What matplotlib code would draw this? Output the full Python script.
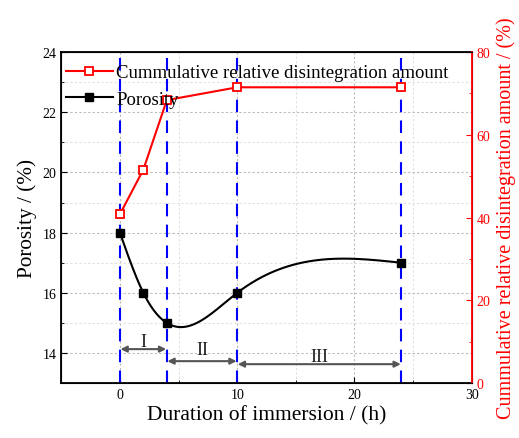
import numpy as np
import matplotlib.pyplot as plt
from matplotlib.ticker import MultipleLocator
from matplotlib.lines import Line2D

# ---------- Data ----------
hours = [0, 2, 4, 10, 24]
porosity = [18.0, 16.0, 15.0, 16.0, 17.0]
disintegration = [40.8, 51.6, 68.4, 71.5, 71.5]
stage_bounds = [0, 4, 10, 24]
stage_names = ["I", "II", "III"]


def natural_spline(x, y, xs):
    # natural cubic spline (no scipy)
    x = np.asarray(x, float); y = np.asarray(y, float)
    n = len(x); h = np.diff(x)
    A = np.zeros((n, n)); b = np.zeros(n)
    A[0, 0] = A[-1, -1] = 1
    for i in range(1, n-1):
        A[i, i-1] = h[i-1]; A[i, i] = 2*(h[i-1]+h[i]); A[i, i+1] = h[i]
        b[i] = 3*((y[i+1]-y[i])/h[i] - (y[i]-y[i-1])/h[i-1])
    c = np.linalg.solve(A, b)
    out = np.empty_like(xs)
    for k, xv in enumerate(xs):
        i = min(max(np.searchsorted(x, xv) - 1, 0), n-2)
        dx = xv - x[i]
        bi = (y[i+1]-y[i])/h[i] - h[i]*(2*c[i]+c[i+1])/3
        di = (c[i+1]-c[i])/(3*h[i])
        out[k] = y[i] + bi*dx + c[i]*dx**2 + di*dx**3
    return out


plt.rcParams['font.family'] = ['Liberation Serif', 'DejaVu Serif']
plt.rcParams['xtick.direction'] = 'in'
plt.rcParams['ytick.direction'] = 'in'

fig, ax = plt.subplots(figsize=(5.19, 4.39), dpi=100)
fig.subplots_adjust(left=0.118, right=0.909, top=0.879, bottom=0.125)
ax2 = ax.twinx()

# grid
ax.set_axisbelow(True)
ax.grid(True, which='major', ls=(0, (2, 2)), color='#bbbbbb', lw=0.8)
ax.grid(True, which='minor', ls=(0, (2, 2)), color='#e0e0e0', lw=0.8)

# stage boundaries
for xb in stage_bounds:
    ax.axvline(xb, color='#0000ff', ls=(0, (6, 4)), lw=1.5, zorder=2)

# porosity curve (smooth line + markers)
xs = np.linspace(hours[0], hours[-1], 300)
ax.plot(xs, natural_spline(hours, porosity, xs), color='black', lw=1.5, zorder=3)
ax.plot(hours, porosity, ls='none', color='black', marker='s', ms=6, zorder=4)
ln_p = Line2D([], [], color='black', marker='s', ms=6, lw=1.5)

# red disintegration series
ln_d, = ax2.plot(hours, disintegration, color='red', marker='s', ms=6,
                 mfc='white', mec='red', mew=1.3, lw=1.5)

# stage arrows
arrow_y = [14.13, 13.73, 13.63]
text_y = [14.38, 14.12, 13.90]
for i, name in enumerate(stage_names):
    x0, x1 = stage_bounds[i], stage_bounds[i+1]
    ax.annotate('', xy=(x0 + 0.05, arrow_y[i]), xytext=(x1 - 0.05, arrow_y[i]),
                arrowprops=dict(arrowstyle='<|-|>', color='#555555', lw=1.5,
                                mutation_scale=9, shrinkA=0, shrinkB=0))
    ax.text((x0 + x1) / 2, text_y[i], name, ha='center', va='center',
            fontsize=13, color='#222222')

# axes
ax.set_xlim(-5, 30)
ax.set_ylim(13, 24)
ax2.set_ylim(0, 80)
ax.xaxis.set_major_locator(MultipleLocator(10))
ax.xaxis.set_minor_locator(MultipleLocator(5))
ax.yaxis.set_major_locator(MultipleLocator(2))
ax.yaxis.set_minor_locator(MultipleLocator(1))
ax2.yaxis.set_major_locator(MultipleLocator(20))
ax2.yaxis.set_minor_locator(MultipleLocator(10))
ax.tick_params(which='both', labelsize=10)
ax.tick_params(which='major', length=4)
ax.tick_params(which='minor', length=2.5)
ax.tick_params(axis='x', which='minor', labelbottom=False)

for s in ['left', 'bottom', 'top']:
    ax.spines[s].set_linewidth(1.3)
ax2.spines['right'].set_color('red')
ax2.spines['right'].set_linewidth(1.3)
ax2.tick_params(axis='y', which='both', colors='red', labelsize=10)
ax2.tick_params(which='major', length=4)
ax2.tick_params(which='minor', length=2.5)

ax.set_xlabel('Duration of immersion / (h)', fontsize=15.5, labelpad=3)
ax.set_ylabel('Porosity / (%)', fontsize=15.3)
ax2.set_ylabel('Cummulative relative disintegration amount / (%)', fontsize=14.5,
               color='red', labelpad=4)

ax2.legend([ln_d, ln_p], ['Cummulative relative disintegration amount', 'Porosity'],
           loc='upper left', bbox_to_anchor=(-0.003, 0.98), frameon=False,
           fontsize=13.5, handlelength=2.5, borderaxespad=0, borderpad=0.3,
           labelspacing=0.5, handletextpad=0.2)

fig.savefig('out.png', dpi=100)
